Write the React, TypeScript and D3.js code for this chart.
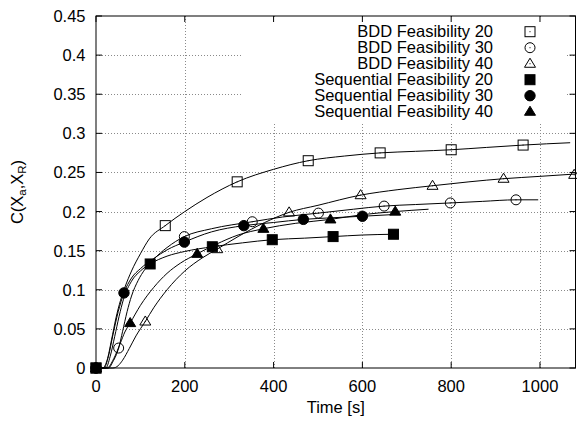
import React from "react";
import * as d3 from "d3";

type P = [number, number];

const xTicks = [0, 200, 400, 600, 800, 1000];
const yTicks = [0, 0.05, 0.1, 0.15, 0.2, 0.25, 0.3, 0.35, 0.4, 0.45];
const yTickLabels = ["0", "0.05", "0.1", "0.15", "0.2", "0.25", "0.3", "0.35", "0.4", "0.45"];

const seriesNames = [
  "BDD Feasibility 20",
  "BDD Feasibility 30",
  "BDD Feasibility 40",
  "Sequential Feasibility 20",
  "Sequential Feasibility 30",
  "Sequential Feasibility 40",
];
const seriesShapes = ["squareOpen", "circleOpen", "triangleOpen", "squareFilled", "circleFilled", "triangleFilled"];

// curves (time [s], C)
const bdd20Curve: P[] = [
  [0, 0], [15, 0], [25, 0.01], [35, 0.036], [45, 0.064], [55, 0.086], [65, 0.103], [80, 0.124], [100, 0.146],
  [120, 0.165], [156, 0.182], [200, 0.2], [250, 0.218], [318, 0.238], [400, 0.254], [478, 0.265], [560, 0.271],
  [640, 0.275], [720, 0.277], [800, 0.279], [880, 0.282], [962, 0.285], [1068, 0.288],
];
const bdd30Curve: P[] = [
  [0, 0], [28, 0], [38, 0.008], [51, 0.0255], [60, 0.047], [70, 0.072], [80, 0.092], [95, 0.112], [110, 0.126],
  [130, 0.139], [160, 0.154], [199, 0.168], [260, 0.178], [352, 0.187], [420, 0.193], [501, 0.198], [580, 0.203],
  [649, 0.207], [720, 0.209], [798, 0.211], [870, 0.213], [946, 0.215], [996, 0.215],
];
const bdd40Curve: P[] = [
  [0, 0], [38, 0], [50, 0.003], [60, 0.01], [75, 0.025], [90, 0.041], [111, 0.0595], [130, 0.077], [160, 0.1],
  [200, 0.124], [240, 0.141], [273, 0.152], [320, 0.168], [380, 0.186], [435, 0.199], [500, 0.208], [596, 0.221],
  [680, 0.228], [758, 0.233], [840, 0.238], [918, 0.242], [1000, 0.245], [1080, 0.248],
];
const seq20Curve: P[] = [
  [0, 0], [22, 0], [32, 0.015], [42, 0.04], [52, 0.066], [62, 0.088], [80, 0.111], [100, 0.124], [122, 0.133],
  [160, 0.143], [200, 0.149], [262, 0.155], [330, 0.16], [397, 0.164], [470, 0.166], [534, 0.168], [600, 0.17],
  [670, 0.171],
];
const seq30Curve: P[] = [
  [0, 0], [18, 0], [28, 0.015], [38, 0.042], [50, 0.072], [63, 0.096], [80, 0.115], [100, 0.127], [130, 0.14],
  [160, 0.151], [199, 0.161], [260, 0.174], [333, 0.182], [400, 0.186], [467, 0.19], [530, 0.192], [600, 0.194],
  [665, 0.196],
];
const seq40Curve: P[] = [
  [0, 0], [25, 0], [40, 0.012], [55, 0.032], [65, 0.046], [77, 0.0575], [100, 0.08], [130, 0.103], [160, 0.121],
  [190, 0.134], [228, 0.146], [270, 0.158], [320, 0.17], [377, 0.178], [450, 0.185], [528, 0.19], [600, 0.196],
  [674, 0.2], [749, 0.203],
];

// marker points
const bdd20Marks: P[] = [[0, 0], [156, 0.182], [318, 0.238], [478, 0.265], [640, 0.275], [800, 0.279], [962, 0.285]];
const bdd30Marks: P[] = [[0, 0], [51, 0.0255], [199, 0.168], [352, 0.187], [501, 0.198], [649, 0.207], [798, 0.211], [946, 0.215]];
const bdd40Marks: P[] = [[0, 0], [111, 0.0595], [273, 0.152], [435, 0.199], [596, 0.221], [758, 0.233], [918, 0.242], [1077, 0.247]];
const seq20Marks: P[] = [[0, 0], [122, 0.133], [262, 0.155], [397, 0.164], [534, 0.168], [670, 0.171]];
const seq30Marks: P[] = [[0, 0], [63, 0.096], [199, 0.161], [333, 0.182], [467, 0.19], [600, 0.194]];
const seq40Marks: P[] = [[0, 0], [77, 0.0575], [228, 0.146], [377, 0.178], [528, 0.19], [674, 0.2]];

const curves = [bdd20Curve, bdd30Curve, bdd40Curve, seq20Curve, seq30Curve, seq40Curve];
const marks = [bdd20Marks, bdd30Marks, bdd40Marks, seq20Marks, seq30Marks, seq40Marks];

const W = 577;
const H = 421;
const left = 96;
const right = 575.5;
const top = 16;
const bottom = 368;

const FONT = "'Liberation Sans', Arial, Helvetica, sans-serif";
const FS = 16.5;

function Marker({ shape, x, y }: { shape: string; x: number; y: number }) {
  const s = 5;
  const filled = shape.endsWith("Filled");
  const fill = filled ? "#000" : "none";
  const stroke = "#000";
  if (shape.startsWith("square")) {
    return (
      <g>
        <rect x={x - s} y={y - s} width={2 * s} height={2 * s} fill={fill} stroke={stroke} strokeWidth={1} />
        {!filled && <rect x={x - 0.5} y={y - 0.5} width={1} height={1} fill="#000" />}
      </g>
    );
  }
  if (shape.startsWith("circle")) {
    return (
      <g>
        <circle cx={x} cy={y} r={filled ? 5.2 : 5} fill={fill} stroke={stroke} strokeWidth={1} />
        {!filled && <rect x={x - 0.5} y={y - 0.5} width={1} height={1} fill="#000" />}
      </g>
    );
  }
  const h = 5.5;
  const pts = `${x},${y - h} ${x - h},${y + h * 0.65} ${x + h},${y + h * 0.65}`;
  return (
    <g>
      <polygon points={pts} fill={fill} stroke={stroke} strokeWidth={1} strokeLinejoin="miter" />
      {!filled && <rect x={x - 0.5} y={y - 0.5} width={1} height={1} fill="#000" />}
    </g>
  );
}

export default function App() {
  const x = d3.scaleLinear().domain([0, 1080]).range([left, right]);
  const y = d3.scaleLinear().domain([0, 0.45]).range([bottom, top]);
  const line = d3
    .line<P>()
    .x((d) => x(d[0]))
    .y((d) => y(d[1]))
    .curve(d3.curveMonotoneX);

  const legendTextX = 493;
  const legendMarkX = 530;
  const legendY0 = 31.7;
  const legendDy = 16;

  return (
    <svg
      width={W}
      height={H}
      style={{ position: "absolute", left: 0, top: 0, background: "#fff" }}
      fontFamily={FONT}
    >
      <rect x={0} y={0} width={W} height={H} fill="#fff" />
      {/* grid */}
      <g stroke="#8a8a8a" strokeWidth={1} strokeDasharray="1 2" fill="none">
        {yTicks.slice(1, -1).map((t) => (
          <line key={"gy" + t} x1={left} x2={right} y1={Math.round(y(t)) + 0.5} y2={Math.round(y(t)) + 0.5} />
        ))}
        {xTicks.slice(1).map((t) => (
          <line key={"gx" + t} x1={Math.round(x(t)) + 0.5} x2={Math.round(x(t)) + 0.5} y1={top} y2={bottom} />
        ))}
      </g>
      {/* legend box clears the grid */}
      <rect x={243} y={top + 1} width={322} height={106} fill="#fff" />

      {/* curves */}
      <g fill="none" stroke="#000" strokeWidth={1}>
        {curves.map((c, i) => (
          <path key={"c" + i} d={line(c) || ""} />
        ))}
      </g>

      {/* markers */}
      {marks.map((m, i) =>
        m.map((p, j) => <Marker key={`m${i}-${j}`} shape={seriesShapes[i]} x={x(p[0])} y={y(p[1])} />)
      )}

      {/* frame */}
      <rect x={left} y={top} width={right - left} height={bottom - top} fill="none" stroke="#000" strokeWidth={1} />

      {/* ticks */}
      <g stroke="#000" strokeWidth={1}>
        {xTicks.map((t) => (
          <g key={"tx" + t}>
            <line x1={x(t)} x2={x(t)} y1={bottom} y2={bottom - 6} />
            <line x1={x(t)} x2={x(t)} y1={top} y2={top + 6} />
          </g>
        ))}
        {yTicks.map((t) => (
          <g key={"ty" + t}>
            <line x1={left} x2={left + 6} y1={y(t)} y2={y(t)} />
            <line x1={right} x2={right - 6} y1={y(t)} y2={y(t)} />
          </g>
        ))}
      </g>

      {/* tick labels */}
      <g fontSize={FS} fill="#000">
        {yTicks.map((t, i) => (
          <text key={"ly" + t} x={85.5} y={y(t) + 6} textAnchor="end">
            {yTickLabels[i]}
          </text>
        ))}
        {xTicks.map((t) => (
          <text key={"lx" + t} x={x(t)} y={391.7} textAnchor="middle">
            {t}
          </text>
        ))}
      </g>

      {/* axis labels */}
      <text x={(left + right) / 2} y={412.5} fontSize={FS} textAnchor="middle">
        Time [s]
      </text>
      <text transform={`translate(22.5,${(top + bottom) / 2}) rotate(-90)`} fontSize={FS} textAnchor="middle">
        C(X
        <tspan fontSize={11.5} dy={3.5}>a</tspan>
        <tspan dy={-3.5}>,X</tspan>
        <tspan fontSize={11.5} dy={3.5}>R</tspan>
        <tspan dy={-3.5}>)</tspan>
      </text>

      {/* legend */}
      {seriesNames.map((n, i) => (
        <g key={"lg" + i}>
          <text x={legendTextX} y={legendY0 + i * legendDy + 5} fontSize={FS} textAnchor="end">
            {n}
          </text>
          <Marker shape={seriesShapes[i]} x={legendMarkX} y={legendY0 + i * legendDy} />
        </g>
      ))}
    </svg>
  );
}
